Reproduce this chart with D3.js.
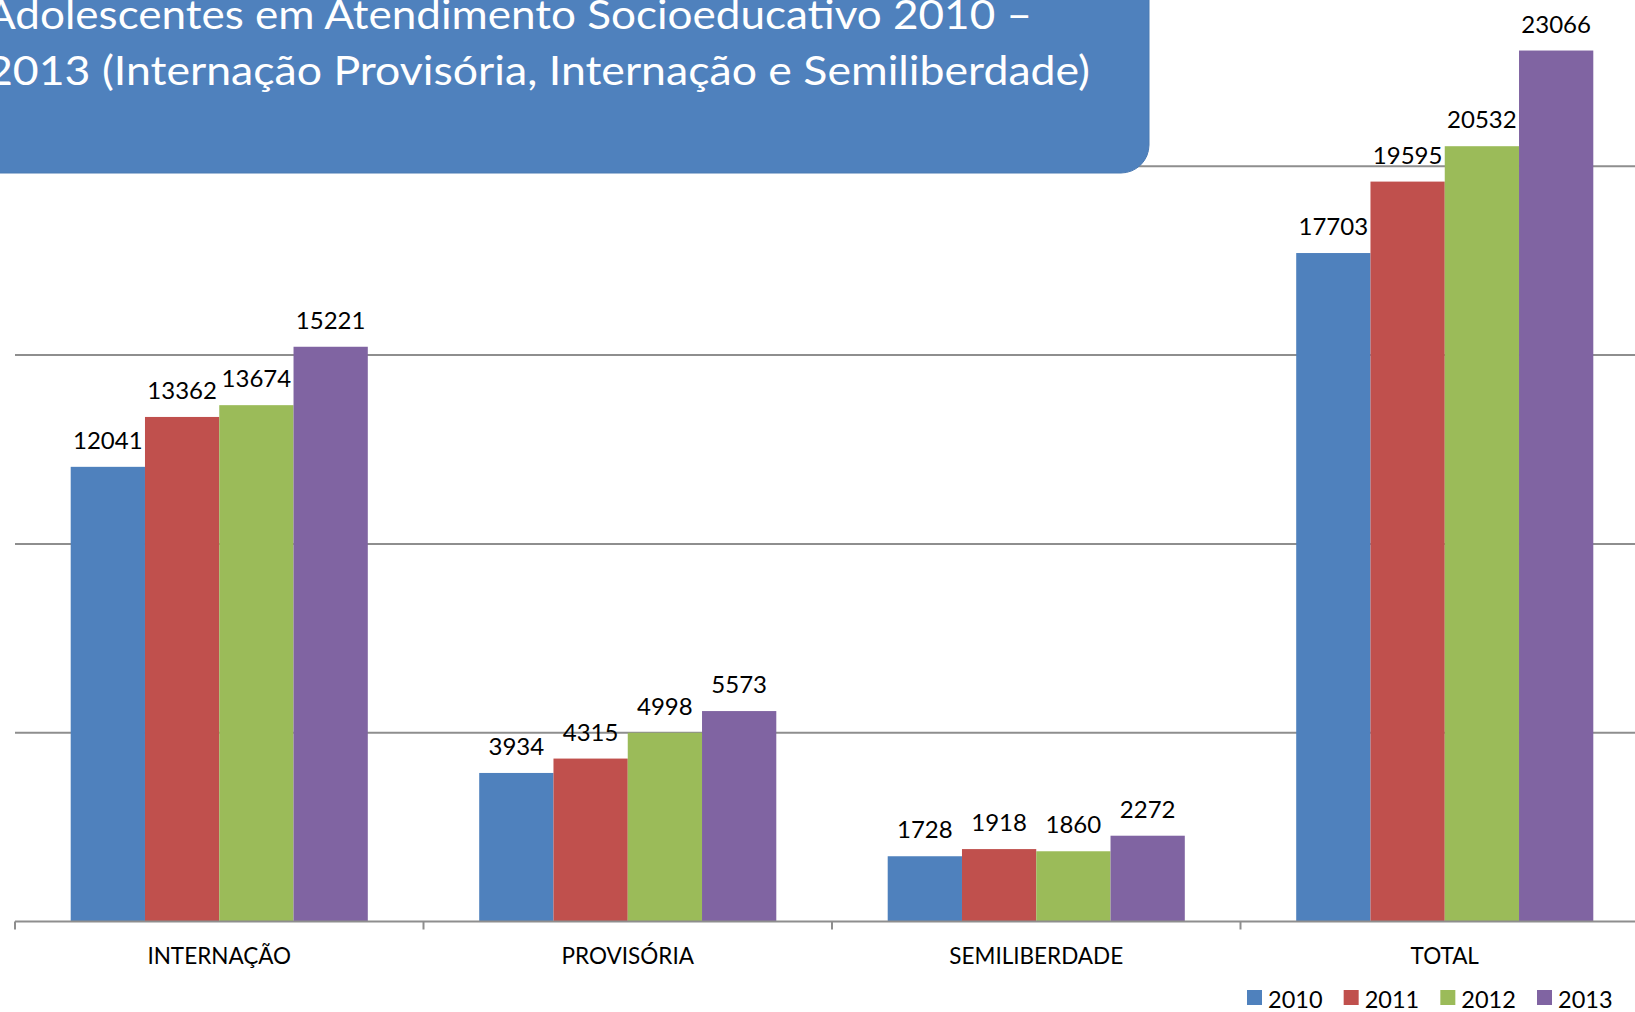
<!DOCTYPE html>
<html>
<head>
  <meta charset="UTF-8">
  <style>
    body {
      margin: 0;
      background-color: #ffffff;
      overflow: hidden;
    }
    svg {
      display: block;
      font-family: Lato, "Open Sans", sans-serif;
    }
  </style>
</head>
<body>

<svg width="1635" height="1012"></svg>

<script src="https://d3js.org/d3.v7.min.js"></script>

<script>
let categories = ["INTERNAÇÃO", "PROVISÓRIA", "SEMILIBERDADE", "TOTAL"];
let years = ["2010", "2011", "2012", "2013"];
let values2010 = [12041, 3934, 1728, 17703];
let values2011 = [13362, 4315, 1918, 19595];
let values2012 = [13674, 4998, 1860, 20532];
let values2013 = [15221, 5573, 2272, 23066];
let gridTicks = [5000, 10000, 15000, 20000];
let colors = ["#4f81bd", "#c0504d", "#9bbb59", "#8064a2"];
let titleLines = [
  "Adolescentes em Atendimento Socioeducativo 2010 –",
  "2013 (Internação Provisória, Internação e Semiliberdade)"
];

let width = 1635, height = 1012;
let svg = d3.select("svg");

let series = [values2010, values2011, values2012, values2013];
let rows = [];
categories.forEach((c, i) => {
  years.forEach((y, j) => {
    rows.push({ cat: c, year: y, value: series[j][i], color: colors[j] });
  });
});

// plot area runs past the right edge of the picture
let x = d3.scaleBand()
    .domain(categories)
    .range([15, 15 + 4 * 408.5])
    .paddingInner(0)
    .paddingOuter(0);

let xInner = d3.scaleBand()
    .domain(years)
    .range([0, x.bandwidth()])
    .paddingInner(0)
    .paddingOuter(0.75);

let y = d3.scaleLinear()
    .domain([0, 25000])
    .range([921.5, 921.5 - 5 * 188.8]);

// gridlines
svg.append("g")
    .selectAll("line")
    .data(gridTicks)
    .enter()
    .append("line")
    .attr("x1", 15)
    .attr("x2", width)
    .attr("y1", d => y(d))
    .attr("y2", d => y(d))
    .attr("stroke", "#8e8e8e")
    .attr("stroke-width", 2);

// bars
svg.append("g")
    .selectAll("rect")
    .data(rows)
    .enter()
    .append("rect")
    .attr("x", d => x(d.cat) + xInner(d.year))
    .attr("y", d => y(d.value))
    .attr("width", xInner.bandwidth())
    .attr("height", d => y(0) - y(d.value))
    .attr("fill", d => d.color);

// value labels
svg.append("g")
    .selectAll("text")
    .data(rows)
    .enter()
    .append("text")
    .attr("x", d => x(d.cat) + xInner(d.year) + xInner.bandwidth() / 2)
    .attr("y", d => y(d.value) - 18)
    .attr("text-anchor", "middle")
    .attr("font-size", 24)
    .attr("fill", "#000")
    .text(d => d.value);

// category axis
let axis = svg.append("g")
    .attr("transform", "translate(0," + y(0) + ")");

axis.append("line")
    .attr("x1", 15)
    .attr("x2", width)
    .attr("stroke", "#8e8e8e")
    .attr("stroke-width", 2);

axis.selectAll(".sep")
    .data(categories)
    .enter()
    .append("line")
    .attr("x1", d => x(d))
    .attr("x2", d => x(d))
    .attr("y1", 0)
    .attr("y2", 8)
    .attr("stroke", "#8e8e8e")
    .attr("stroke-width", 2);

axis.selectAll(".cat")
    .data(categories)
    .enter()
    .append("text")
    .attr("x", d => x(d) + x.bandwidth() / 2)
    .attr("y", 42)
    .attr("text-anchor", "middle")
    .attr("font-size", 22.5)
    .attr("fill", "#000")
    .text(d => d);

// legend
let legendX = d3.scalePoint()
    .domain(years)
    .range([1247, 1537]);

let legend = svg.append("g")
    .selectAll("g")
    .data(years)
    .enter()
    .append("g")
    .attr("transform", d => "translate(" + legendX(d) + ",990)");

legend.append("rect")
    .attr("width", 15)
    .attr("height", 15)
    .attr("fill", (d, i) => colors[i]);

legend.append("text")
    .attr("x", 21)
    .attr("y", 18)
    .attr("font-size", 23.5)
    .attr("fill", "#000")
    .text(d => d);

// title box, only the bottom right corner is rounded
let r = 28, bx = 1149, by = 173;
svg.append("path")
    .attr("d", "M-10,-10 H" + bx + " V" + (by - r) +
      " A" + r + "," + r + " 0 0 1 " + (bx - r) + "," + by + " H-10 Z")
    .attr("fill", "#4f81bd")
    .attr("stroke", "#4a7ab3")
    .attr("stroke-width", 1);

let titleStart = [-14, -13];
let titleEnd = [1032, 1090];
let titleBase = [29, 85];

svg.append("g")
    .selectAll("text")
    .data(titleLines)
    .enter()
    .append("text")
    .attr("x", (d, i) => titleStart[i])
    .attr("y", (d, i) => titleBase[i])
    .attr("font-size", 41)
    .attr("fill", "#ffffff")
    .attr("textLength", (d, i) => titleEnd[i] - titleStart[i])
    .attr("lengthAdjust", "spacingAndGlyphs")
    .text(d => d);
</script>

</body>
</html>
